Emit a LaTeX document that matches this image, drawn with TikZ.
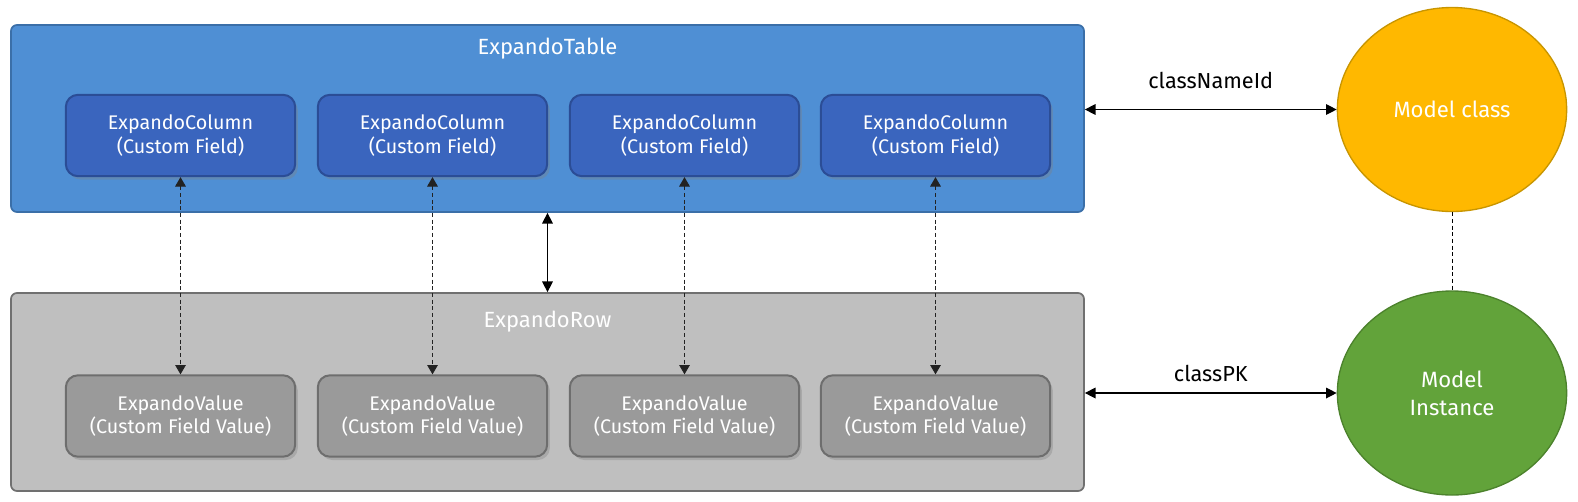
\documentclass[tikz,border=0pt]{standalone}
\usepackage{fontspec}
\setmainfont{Fira Sans}
\usetikzlibrary{arrows.meta,shapes.geometric,shadows,fit}

\definecolor{tableblue}{HTML}{4F8FD4}
\definecolor{tableline}{HTML}{3B6FA8}
\definecolor{colblue}{HTML}{3A65BE}
\definecolor{colline}{HTML}{2B4D96}
\definecolor{rowgray}{HTML}{BFBFBF}
\definecolor{rowline}{HTML}{707070}
\definecolor{valgray}{HTML}{9A9A9A}
\definecolor{valline}{HTML}{6E6E6E}
\definecolor{classorange}{HTML}{FFB800}
\definecolor{classline}{HTML}{C89500}
\definecolor{instgreen}{HTML}{62A33A}
\definecolor{instline}{HTML}{4C822C}
\definecolor{tipgray}{HTML}{222222}

\tikzset{
	outerbox/.style={draw, line width=1.3pt, rounded corners=4.5pt, inner sep=0pt},
	innerbox/.style={draw, line width=1.5pt, rounded corners=9pt, minimum width=172pt,
		minimum height=61pt, text=white, align=center, font=\fontsize{14.8}{17.5}\selectfont,
		drop shadow={shadow xshift=2pt, shadow yshift=-2.5pt, opacity=0.35}},
	colbox/.style={innerbox, draw=colline, fill=colblue},
	valbox/.style={innerbox, draw=valline, fill=valgray},
	title/.style={text=white, font=\fontsize{16.5}{19}\selectfont},
	model/.style={ellipse, draw, line width=1pt, minimum width=172pt, minimum height=153pt,
		text=white, align=center, font=\fontsize{16.6}{21}\selectfont},
	link/.style={densely dashed, line width=0.6pt, {Triangle[length=7pt,width=8pt]}-{Triangle[length=7pt,width=8pt]}, tipgray},
	keylink/.style={line width=0.9pt, {Triangle[length=8pt,width=8pt]}-{Triangle[length=8pt,width=8pt]}},
	keytext/.style={font=\fontsize{16.3}{19}\selectfont}
}

\begin{document}
\begin{tikzpicture}[x=0.75pt, y=-0.75pt]
	\useasboundingbox (0, 0) rectangle (1578, 501);

	% ExpandoTable with its columns
	\node[outerbox, draw=tableline, fill=tableblue, fit={(11, 25) (1084, 212)}] (table) {};
	\node[title] (tabletitle) at (547.5, 49) {ExpandoTable};
	\node[colbox] (col1) at (180.5, 135.5) {ExpandoColumn\\(Custom Field)};
	\node[colbox] (col2) at (432.5, 135.5) {ExpandoColumn\\(Custom Field)};
	\node[colbox] (col3) at (684.5, 135.5) {ExpandoColumn\\(Custom Field)};
	\node[colbox] (col4) at (935.5, 135.5) {ExpandoColumn\\(Custom Field)};

	% ExpandoRow with its values
	\node[outerbox, draw=rowline, fill=rowgray, fit={(11, 293) (1084, 491)}] (row) {};
	\node[title] (rowtitle) at (547.5, 322) {ExpandoRow};
	\node[valbox] (val1) at (180.5, 416) {ExpandoValue\\(Custom Field Value)};
	\node[valbox] (val2) at (432.5, 416) {ExpandoValue\\(Custom Field Value)};
	\node[valbox] (val3) at (684.5, 416) {ExpandoValue\\(Custom Field Value)};
	\node[valbox] (val4) at (935.5, 416) {ExpandoValue\\(Custom Field Value)};

	% models
	\node[model, draw=classline, fill=classorange] (class) at (1452, 109.5) {Model class};
	\node[model, draw=instline, fill=instgreen] (inst) at (1452, 393) {Model\\Instance};

	\draw[link] (col1) -- (val1);
	\draw[link] (col2) -- (val2);
	\draw[link] (col3) -- (val3);
	\draw[link] (col4) -- (val4);
	\draw[keylink] (table) -- (row);
	\draw[keylink] (table.east |- class.west) -- (class.west)
		node[keytext, midway, above=12pt] {classNameId};
	\draw[keylink] (row.east |- inst.west) -- (inst.west)
		node[keytext, midway, above=5pt] {classPK};
	\draw[densely dashed, line width=0.6pt] (class) -- (inst);
\end{tikzpicture}
\end{document}
